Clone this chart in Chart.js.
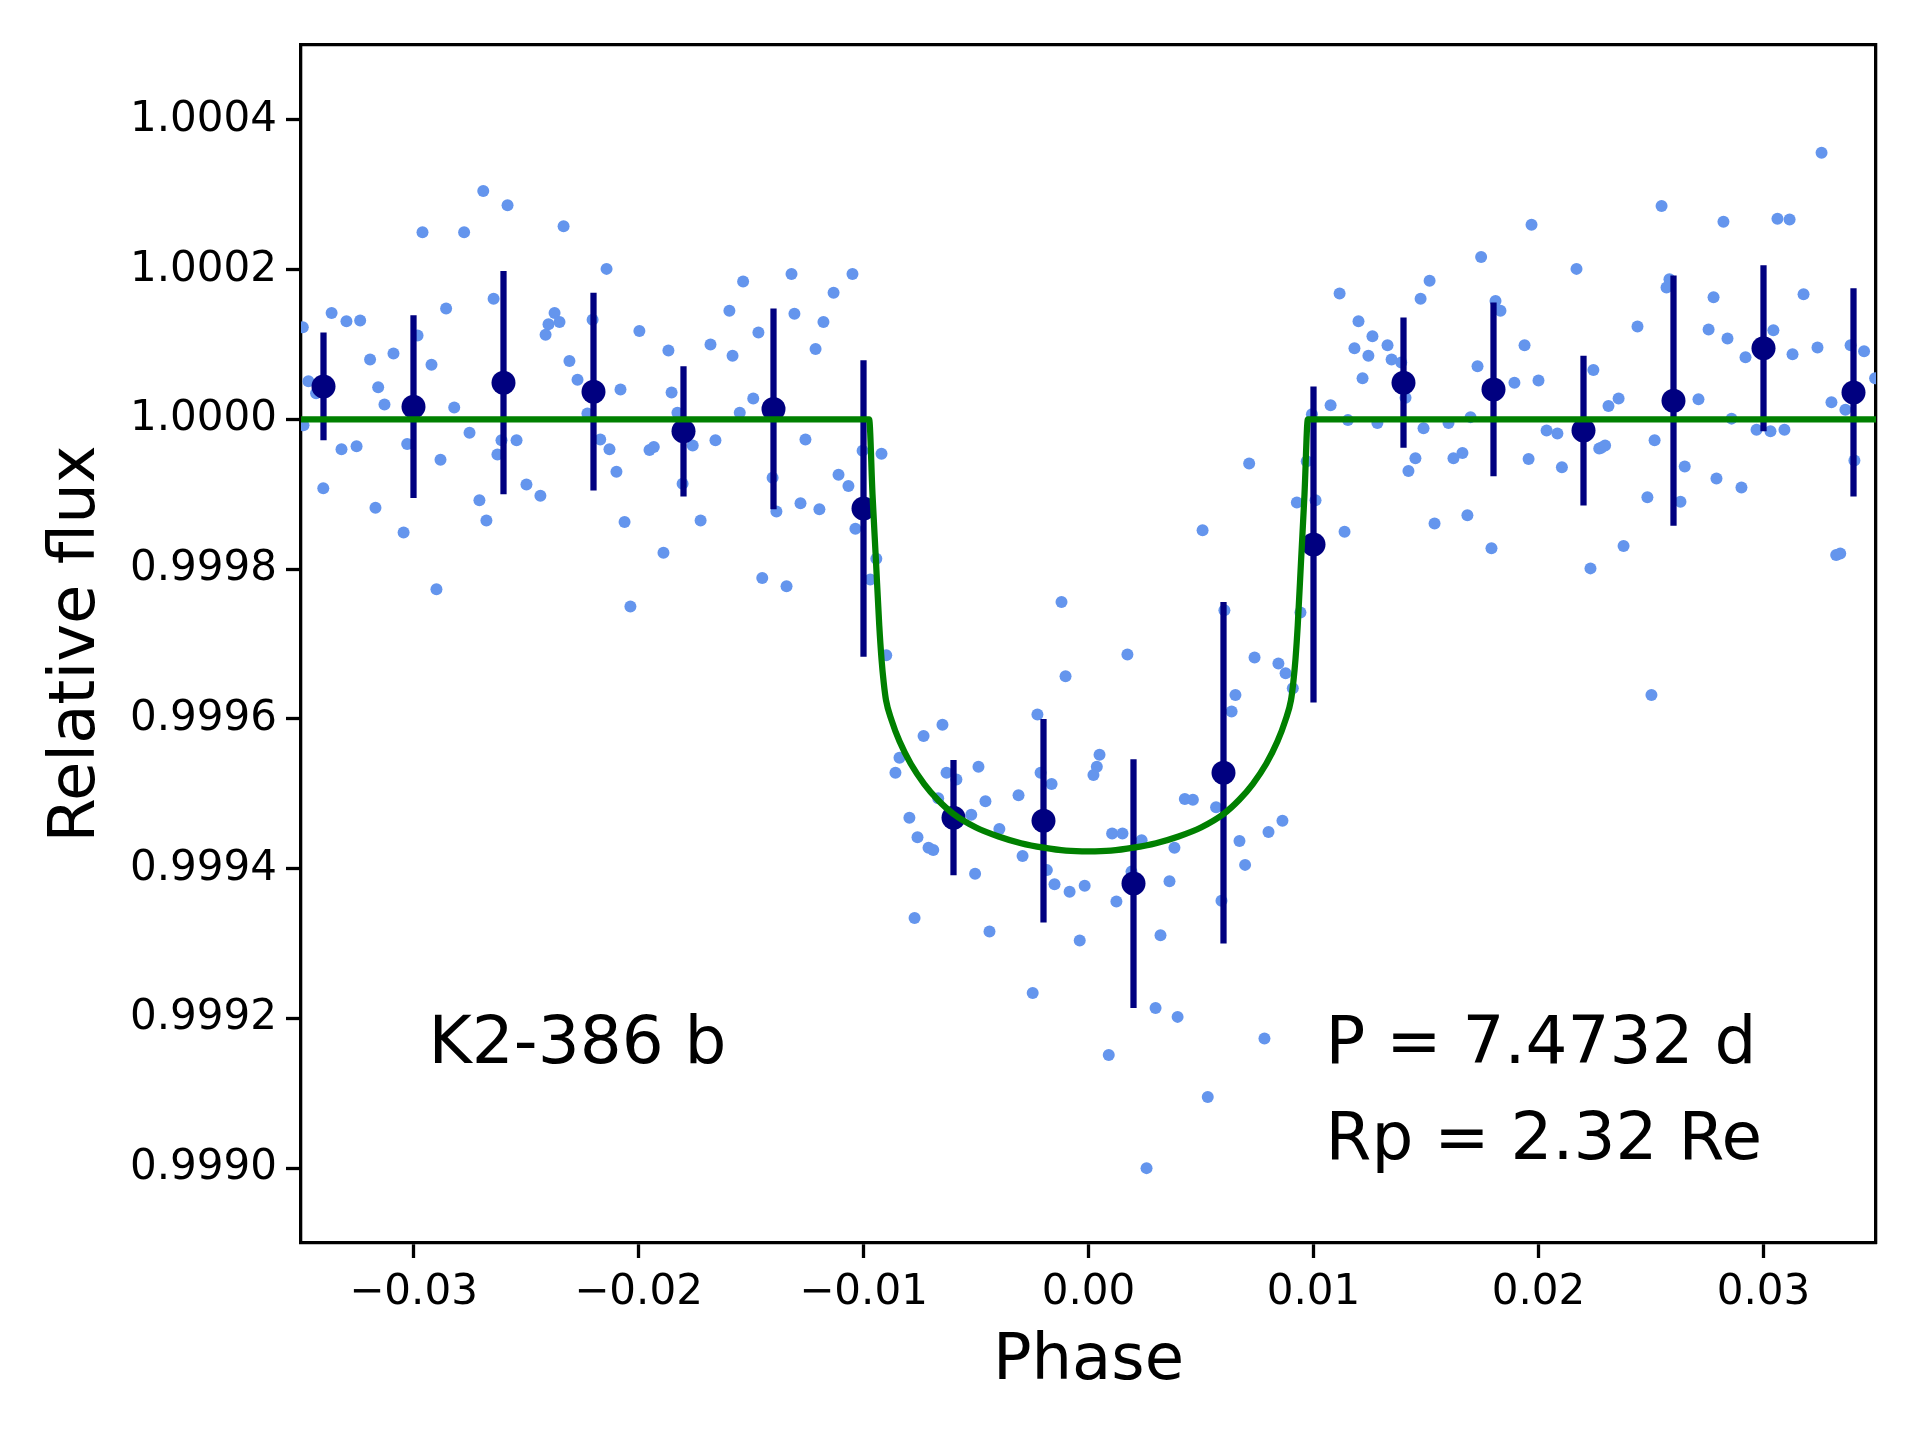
<!DOCTYPE html>
<html>
<head>
<meta charset="utf-8">
<title>K2-386 b phase-folded light curve</title>
<script src="https://cdn.jsdelivr.net/npm/chart.js@4.4.0/dist/chart.umd.min.js"></script>
<style>
  body { margin: 0; background: #fff; }
  #wrap { width: 1920px; height: 1440px; }
</style>
</head>
<body>
<div id="wrap"><canvas id="lc" width="1920" height="1440"></canvas></div>
<script>
// unbinned photometry (phase, relative flux)
var obsPhase = [
  -0.03492, -0.03489, -0.03467, -0.03433, -0.03364, -0.03298, -0.03237, -0.03320, -0.03253, -0.03401,
  -0.03193, -0.03157, -0.03089, -0.03129, -0.03169, -0.03044, -0.03028, -0.02982, -0.02960, -0.02920,
  -0.02855, -0.02819, -0.02880, -0.02898, -0.02775, -0.02751, -0.02690, -0.02644, -0.02582, -0.02609,
  -0.02542, -0.02627, -0.02707, -0.02676, -0.02498, -0.02436, -0.02373, -0.02400, -0.02351, -0.02413,
  -0.02333, -0.02307, -0.02271, -0.02227, -0.02204, -0.02170,
  -0.02142, -0.02080, -0.01996, -0.01867, -0.01853, -0.01827, -0.02129, -0.02098, -0.01951, -0.01932,
  -0.01759, -0.01804, -0.01658, -0.02062, -0.01889, -0.02036, -0.01724, -0.01680, -0.01596, -0.01535,
  -0.01582, -0.01550, -0.01490, -0.01467, -0.01404, -0.01387, -0.01450, -0.01342, -0.01320, -0.01307,
  -0.01258, -0.01280, -0.01196, -0.01213, -0.01178, -0.01133, -0.01049, -0.01111, -0.01067, -0.01004,
  -0.00920, -0.01036, -0.00943, -0.00970,
  -0.00899, -0.00120, -0.00102, -0.00227, -0.00649, -0.00733, -0.00840, -0.00858, -0.00631, -0.00587,
  -0.00489, -0.00668, -0.00796, -0.00760, -0.00711, -0.00690, -0.00521, -0.00458, -0.00396, -0.00504,
  -0.00773, -0.00440, -0.00311, -0.00213, -0.00164, -0.00293, -0.00185, -0.00151, -0.00084, -0.00017,
  -0.00039, -0.00248, 0.00049, 0.00037, 0.00022,
  0.00173, 0.00604, 0.00942, 0.00738, 0.00844, 0.00876, 0.00908, 0.00653, 0.00636, 0.00428,
  0.00464, 0.00567, 0.00105, 0.00151, 0.00236, 0.00382, 0.00191, 0.00360, 0.00124, 0.00591,
  0.00320, 0.00671, 0.00696, 0.00800, 0.00862, 0.00298, 0.00396, 0.00782, 0.00090, 0.00530,
  0.00258, 0.00507, 0.00714, 0.00926,
  0.01116, 0.01200, 0.01262, 0.01182, 0.01244, 0.01329, 0.01347, 0.01390, 0.01218, 0.01076,
  0.00993, 0.01153, 0.01284, 0.01409, 0.01489, 0.01600, 0.01698, 0.01516, 0.01476, 0.01745,
  0.01809, 0.01831, 0.01729, 0.01969, 0.01893, 0.01938, 0.02000, 0.02169, 0.02244, 0.02036,
  0.02084, 0.01956, 0.02104, 0.02270, 0.00970, 0.01453, 0.01422, 0.01622, 0.01662, 0.01009,
  0.01138, 0.01538, 0.01684, 0.01791, 0.02231,
  0.03258, 0.02547, 0.02822, 0.03062, 0.03116, 0.02582, 0.02569, 0.02778, 0.03178, 0.02440,
  0.02756, 0.02840, 0.03044, 0.02920, 0.03129, 0.03240, 0.03387, 0.03447, 0.03496, 0.02356,
  0.02311, 0.02711, 0.03302, 0.03364, 0.02858, 0.02969, 0.03031, 0.03093, 0.02279, 0.02296,
  0.02516, 0.02650, 0.02791, 0.02902, 0.02484, 0.02631, 0.03404, 0.02378, 0.03323, 0.03341,
  0.02502
];
var obsFlux = [
  1.000123, 0.999992, 1.000051, 1.000035, 1.000142, 1.000131, 1.000132, 0.999960, 0.999964, 0.999908,
  1.000080, 1.000043, 1.000088, 1.000020, 0.999882, 0.999849, 0.999967, 1.000112, 1.000250, 1.000073,
  1.000148, 1.000016, 0.999946, 0.999773, 1.000250, 0.999982, 1.000305, 1.000161, 1.000286, 0.999972,
  0.999972, 0.999953, 0.999892, 0.999865, 0.999913, 0.999898, 1.000142, 1.000127, 1.000130, 1.000113,
  1.000258, 1.000078, 1.000053, 1.000008, 1.000133, 0.999973,
  1.000201, 1.000040, 1.000118, 1.000092, 1.000036, 1.000009, 0.999960, 0.999930, 0.999959, 0.999963,
  0.999965, 0.999914, 0.999972, 0.999863, 0.999822, 0.999750, 0.999865, 1.000100, 1.000145, 1.000184,
  1.000085, 1.000009, 1.000028, 1.000116, 0.999922, 0.999877, 0.999788, 0.999777, 1.000194, 1.000141,
  0.999973, 0.999888, 0.999880, 1.000094, 1.000130, 1.000169, 1.000194, 0.999926, 0.999911, 0.999958,
  0.999954, 0.999854, 0.999814, 0.999786,
  0.999685, 0.999756, 0.999657, 0.999606, 0.999592, 0.999577, 0.999548, 0.999528, 0.999528, 0.999519,
  0.999536, 0.999494, 0.999468, 0.999442, 0.999428, 0.999425, 0.999472, 0.999490, 0.999453, 0.999393,
  0.999334, 0.999316, 0.999498, 0.999528, 0.999513, 0.999417, 0.999398, 0.999379, 0.999369, 0.999377,
  0.999304, 0.999234, 0.999552, 0.999536, 0.999525,
  0.999686, 0.999745, 0.999742, 0.999682, 0.999674, 0.999661, 0.999641, 0.999632, 0.999610, 0.999493,
  0.999492, 0.999482, 0.999447, 0.999447, 0.999438, 0.999428, 0.999396, 0.999383, 0.999356, 0.999357,
  0.999311, 0.999437, 0.999405, 0.999449, 0.999464, 0.999214, 0.999202, 0.999173, 0.999151, 0.999095,
  0.999000, 0.999852, 0.999941, 0.999889,
  1.000168, 1.000131, 1.000111, 1.000095, 1.000085, 1.000099, 1.000080, 1.000076, 1.000055, 1.000019,
  1.000007, 0.999999, 0.999995, 1.000029, 0.999988, 0.999995, 1.000003, 1.000185, 1.000161, 1.000217,
  1.000158, 1.000145, 1.000071, 1.000260, 1.000049, 1.000099, 1.000052, 1.000201, 1.000066, 0.999985,
  0.999981, 0.999947, 0.999936, 0.999961, 0.999944, 0.999948, 0.999931, 0.999948, 0.999955, 0.999892,
  0.999850, 0.999861, 0.999872, 0.999828, 0.999801,
  1.000356, 1.000285, 1.000264, 1.000268, 1.000267, 1.000187, 1.000176, 1.000163, 1.000167, 1.000124,
  1.000120, 1.000108, 1.000119, 1.000083, 1.000087, 1.000096, 1.000099, 1.000091, 1.000055, 1.000028,
  1.000018, 1.000027, 1.000023, 1.000013, 1.000001, 0.999986, 0.999984, 0.999986, 0.999962, 0.999965,
  0.999972, 0.999937, 0.999921, 0.999909, 0.999896, 0.999890, 0.999945, 0.999831, 0.999819, 0.999821,
  0.999632
];

// binned points with errors
var binPhase = [-0.034, -0.030, -0.026, -0.022, -0.018, -0.014, -0.010, -0.006, -0.002,
                 0.002, 0.006, 0.010, 0.014, 0.018, 0.022, 0.026, 0.030, 0.034];
var binFlux = [1.000044, 1.000017, 1.000049, 1.000037, 0.999984, 1.000014, 0.999881, 0.999468, 0.999464,
               0.999380, 0.999528, 0.999833, 1.000049, 1.000040, 0.999985, 1.000025, 1.000095, 1.000036];
var binErr = [0.000072, 0.000122, 0.000149, 0.000132, 0.000087, 0.000134, 0.000198, 0.000077, 0.000136,
              0.000166, 0.000228, 0.000211, 0.000087, 0.000116, 0.000100, 0.000167, 0.000111, 0.000139];

// transit model
var modelPhase = [-0.035, -0.00975, -0.0096, -0.00945, -0.0093, -0.0092, -0.0091, -0.0090, -0.00875, -0.0084,
                  -0.0079, -0.0073, -0.0067, -0.0060, -0.0050, -0.0040, -0.0030, -0.0020, -0.0010, 0.0,
                  0.0010, 0.0020, 0.0030, 0.0040, 0.0050, 0.0060, 0.0067, 0.0073, 0.0079,
                  0.0084, 0.00875, 0.0090, 0.0091, 0.0092, 0.0093, 0.00945, 0.0096, 0.00975, 0.035];
var modelFlux = [1.0, 1.0, 0.999900, 0.999813, 0.999725, 0.999680, 0.999648, 0.999625, 0.999598, 0.999570,
                 0.999540, 0.999513, 0.999492, 0.999473, 0.999455, 0.999443, 0.999434, 0.999428, 0.999424, 0.999423,
                 0.999424, 0.999428, 0.999434, 0.999443, 0.999455, 0.999473, 0.999492, 0.999513, 0.999540,
                 0.999570, 0.999598, 0.999625, 0.999648, 0.999680, 0.999725, 0.999813, 0.999900, 1.0, 1.0];

var xTicks = [-0.03, -0.02, -0.01, 0.00, 0.01, 0.02, 0.03];
var yTicks = [0.9990, 0.9992, 0.9994, 0.9996, 0.9998, 1.0000, 1.0002, 1.0004];

// annotations, placed in axes fractions
var noteText = ['K2-386 b', 'P = 7.4732 d', 'Rp = 2.32 Re'];
var noteX = [0.081, 0.6505, 0.6505];
var noteY = [0.150, 0.150, 0.070];

function pairs(xs, ys) {
    return xs.map((x, i) => ({x: x, y: ys[i]}));
}

function errorSegments() {
    var out = [];
    binPhase.forEach((p, i) => {
        out.push({x: p, y: binFlux[i] - binErr[i]});
        out.push({x: p, y: binFlux[i] + binErr[i]});
        out.push({x: p, y: null});
    });
    return out;
}

function fixTicks(list) {
    return function (scale) {
        scale.ticks = list.map(v => ({value: v}));
    };
}

var notes = {
    id: 'notes',
    beforeDraw(chart) {
        var ctx = chart.ctx;
        ctx.save();
        ctx.fillStyle = '#fff';
        ctx.fillRect(0, 0, chart.width, chart.height);
        ctx.restore();
    },
    afterDraw(chart) {
        var a = chart.chartArea, ctx = chart.ctx;
        ctx.save();
        ctx.font = '66px "DejaVu Sans"';
        ctx.fillStyle = '#000';
        ctx.textBaseline = 'alphabetic';
        ctx.textAlign = 'left';
        noteText.forEach((t, i) => {
            ctx.fillText(t, a.left + noteX[i] * (a.right - a.left), a.bottom - noteY[i] * (a.bottom - a.top));
        });
        ctx.restore();
    }
};

var tickFont = {family: 'DejaVu Sans', size: 42};
var titleFont = {family: 'DejaVu Sans', size: 64};
var edge = {display: true, color: '#000', width: 3.3};

window.onload = () => {
    new Chart(document.getElementById('lc'), {
        type: 'scatter',
        data: {
            datasets: [
                {
                    label: 'model',
                    data: pairs(modelPhase, modelFlux),
                    showLine: true,
                    borderColor: '#008000',
                    borderWidth: 6.25,
                    pointRadius: 0,
                    cubicInterpolationMode: 'monotone',
                    order: 0
                },
                {
                    label: 'binned',
                    data: pairs(binPhase, binFlux),
                    backgroundColor: '#000080',
                    borderWidth: 0,
                    pointRadius: 12,
                    order: 1
                },
                {
                    label: 'errors',
                    data: errorSegments(),
                    showLine: true,
                    spanGaps: false,
                    borderColor: '#000080',
                    borderWidth: 6.25,
                    pointRadius: 0,
                    order: 2
                },
                {
                    label: 'data',
                    data: pairs(obsPhase, obsFlux),
                    backgroundColor: '#6495ED',
                    borderWidth: 0,
                    pointRadius: 6,
                    order: 3
                }
            ]
        },
        options: {
            responsive: false,
            devicePixelRatio: 1,
            animation: false,
            layout: {padding: {left: 0, right: 44, top: 45, bottom: 0}},
            plugins: {legend: {display: false}, tooltip: {enabled: false}},
            scales: {
                x: {
                    type: 'linear',
                    position: 'bottom',
                    min: -0.035,
                    max: 0.035,
                    afterBuildTicks: fixTicks(xTicks),
                    afterFit: s => { s.height = 197; },
                    border: edge,
                    grid: {drawOnChartArea: false, drawTicks: true, tickLength: 15, tickWidth: 3.3, tickColor: '#000'},
                    ticks: {
                        font: tickFont, color: '#000', padding: 10, maxRotation: 0,
                        callback: v => v.toFixed(2).replace('-', '\u2212')
                    },
                    title: {display: true, text: 'Phase', font: titleFont, color: '#000', padding: {top: 0, bottom: 39}}
                },
                y: {
                    type: 'linear',
                    position: 'left',
                    min: 0.9989,
                    max: 1.0005,
                    afterBuildTicks: fixTicks(yTicks),
                    afterFit: s => { s.width = 301; },
                    border: edge,
                    grid: {drawOnChartArea: false, drawTicks: true, tickLength: 15, tickWidth: 3.3, tickColor: '#000'},
                    ticks: {
                        font: tickFont, color: '#000', padding: 9,
                        callback: v => v.toFixed(4)
                    },
                    title: {display: true, text: 'Relative flux', font: titleFont, color: '#000', padding: {top: 39, bottom: 0}}
                },
                xTop: {
                    type: 'linear',
                    position: 'top',
                    min: -0.035,
                    max: 0.035,
                    afterFit: s => { s.height = 0; },
                    border: edge,
                    grid: {drawOnChartArea: false, drawTicks: false},
                    ticks: {display: false}
                },
                yRight: {
                    type: 'linear',
                    position: 'right',
                    min: 0.9989,
                    max: 1.0005,
                    afterFit: s => { s.width = 0; },
                    border: edge,
                    grid: {drawOnChartArea: false, drawTicks: false},
                    ticks: {display: false}
                }
            }
        },
        plugins: [notes]
    });
};
</script>
</body>
</html>
